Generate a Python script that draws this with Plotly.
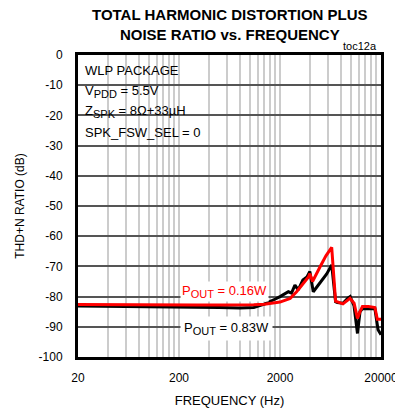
import math
import plotly.graph_objects as go

# THD+N ratio vs frequency, two output power levels
freq_083 = [20, 40, 80, 150, 300, 500, 800, 1100, 1400, 1600, 1800, 2000, 2250, 2420,
            2600, 2810, 3030, 3370, 3700, 3950, 4270, 5000, 5800, 6500, 7100, 7400,
            8400, 9400, 9900, 10800, 11700, 12400, 13100, 15000, 17400, 18700, 20000]
thdn_083 = [-83.1, -83.2, -83.2, -83.3, -83.4, -83.6, -83.8, -83.6, -82.5, -81.7, -80.8,
            -80.0, -78.9, -78.4, -78.8, -76.2, -77.8, -74.5, -73.5, -71.7, -78.4, -75.5,
            -72.5, -69.5, -81.7, -82.0, -82.2, -80.5, -80.0, -83.0, -92.2, -85.0, -84.0,
            -84.0, -84.0, -91.0, -92.6]

freq_016 = [20, 40, 80, 150, 300, 500, 800, 1100, 1400, 1700, 2000, 2160, 2520, 2920,
            3370, 3830, 3950, 4200, 4990, 5700, 6500, 7100, 8400, 9870, 10830, 11700,
            12400, 13100, 15000, 17400, 18400, 20000]
thdn_016 = [-82.6, -82.7, -82.7, -82.8, -82.8, -82.8, -82.8, -82.7, -82.5, -82.2, -81.8,
            -81.4, -80.6, -78.4, -75.6, -73.5, -72.4, -75.0, -70.1, -66.5, -63.7, -81.5,
            -82.4, -80.6, -82.2, -87.2, -85.0, -83.3, -83.3, -83.6, -87.5, -87.5]

# gridline positions: 20, 40, ..., 200, 400, ... 20000
grid_x = [m * k for m in (20, 200, 2000) for k in range(1, 10)] + [20000]
x_labels = {20: "20", 200: "200", 2000: "2000", 20000: "20000"}
y_ticks = list(range(-100, 1, 10))
y_labels = [str(v) for v in y_ticks]

sub = '<sub><span style="font-size:11px">{}</span></sub>'
series_labels = ["P" + sub.format("OUT") + " = 0.83W", "P" + sub.format("OUT") + " = 0.16W"]
conditions = ["WLP PACKAGE", "V" + sub.format("PDD") + " = 5.5V",
              "Z" + sub.format("SPK") + " = 8Ω+33µH", "SPK_FSW_SEL = 0"]

FONT = "Liberation Sans, Arial, sans-serif"

fig = go.Figure()
fig.add_trace(go.Scatter(x=freq_083, y=thdn_083, mode="lines",
                         line=dict(color="#000000", width=3), showlegend=False))
fig.add_trace(go.Scatter(x=freq_016, y=thdn_016, mode="lines",
                         line=dict(color="#ff0000", width=3), showlegend=False))

fig.update_layout(
    width=395, height=417,
    margin=dict(l=78, r=14, t=55, b=60, autoexpand=False),
    paper_bgcolor="white", plot_bgcolor="white",
    font=dict(family=FONT, size=12, color="#000000"),
    xaxis=dict(
        type="log", range=[math.log10(20), math.log10(20000)],
        tickmode="array", tickvals=grid_x,
        ticktext=[x_labels.get(v, "") for v in grid_x],
        ticklabeloverflow="allow", automargin=False,
        showgrid=True, gridcolor="#cccccc", gridwidth=2,
        showline=True, linecolor="#000000", linewidth=3, mirror=True,
        ticks="", ticklabelstandoff=8,
        tickfont=dict(size=12),
        title=dict(text="FREQUENCY (Hz)", font=dict(size=13), standoff=12),
    ),
    yaxis=dict(
        range=[-100, 0], tickmode="array", tickvals=y_ticks, ticktext=y_labels,
        automargin=False,
        showgrid=True, gridcolor="#555555", gridwidth=2,
        showline=True, linecolor="#000000", linewidth=3, mirror=True,
        ticks="", ticklabelstandoff=10, zeroline=False,
        tickfont=dict(size=12),
        title=dict(text="THD+N RATIO (dB)", font=dict(size=12), standoff=12),
    ),
)

# white panel behind the test conditions
fig.add_shape(type="rect", xref="paper", yref="paper", x0=0, x1=0.41, y0=0.715, y1=1,
              fillcolor="white", line=dict(width=0), layer="between")

cond_y = [70, 91, 112, 132]
for txt, py in zip(conditions, cond_y):
    fig.add_annotation(text=txt, xref="paper", yref="paper",
                       x=(83 - 78) / 303, y=(357 - py) / 302,
                       xanchor="left", yanchor="middle", showarrow=False,
                       font=dict(size=13, color="#000000"))

# series labels
fig.add_annotation(text=series_labels[1], xref="paper", yref="paper",
                   x=(180 - 78) / 303, y=(357 - 291) / 302,
                   xanchor="left", yanchor="middle", showarrow=False,
                   bgcolor="white", borderpad=1,
                   font=dict(size=13, color="#ff0000"))
fig.add_annotation(text=series_labels[0], xref="paper", yref="paper",
                   x=(180 - 78) / 303, y=(357 - 328) / 302,
                   xanchor="left", yanchor="middle", showarrow=False,
                   bgcolor="white", borderpad=3,
                   font=dict(size=13, color="#000000"))

# title and figure code
fig.add_annotation(text="<b>TOTAL HARMONIC DISTORTION PLUS<br>NOISE RATIO vs. FREQUENCY</b>",
                   xref="paper", yref="paper", x=0.5, y=(357 - 24) / 302,
                   xanchor="center", yanchor="middle", showarrow=False,
                   font=dict(size=15, color="#000000"))
fig.add_annotation(text="toc12a", xref="paper", yref="paper",
                   x=(379 - 78) / 303, y=(357 - 46) / 302,
                   xanchor="right", yanchor="middle", showarrow=False,
                   font=dict(size=11, color="#000000"))

fig.write_html("out.html")
